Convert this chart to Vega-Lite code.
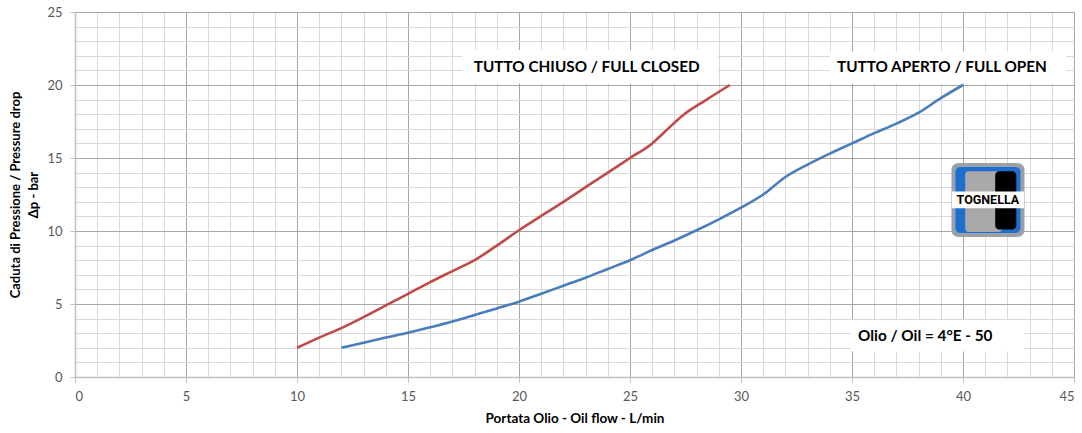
{
  "$schema": "https://vega.github.io/schema/vega-lite/v6.json",
  "width": 999,
  "height": 365,
  "autosize": {"type": "none"},
  "padding": {"left": 75, "top": 12, "right": 8, "bottom": 56},
  "background": "white",
  "config": {
    "view": {"stroke": null},
    "font": "Lato",
    "axis": {
      "labelFont": "Lato",
      "labelFontSize": 13,
      "labelColor": "#595959",
      "labelOverlap": false,
      "titleFont": "Lato",
      "titleFontWeight": "bold",
      "titleColor": "#000000",
      "titleFontSize": 13.5,
      "domainColor": "#bfbfbf",
      "domainWidth": 1.5,
      "tickColor": "#bfbfbf",
      "tickSize": 5,
      "labelPadding": 8
    }
  },
  "datasets": {
    "curves": [
      {"serie": "chiuso", "q": 10, "dp": 2.0},
      {"serie": "chiuso", "q": 11, "dp": 2.7},
      {"serie": "chiuso", "q": 12, "dp": 3.35},
      {"serie": "chiuso", "q": 13, "dp": 4.1},
      {"serie": "chiuso", "q": 14, "dp": 4.9},
      {"serie": "chiuso", "q": 15, "dp": 5.7},
      {"serie": "chiuso", "q": 16, "dp": 6.5},
      {"serie": "chiuso", "q": 17, "dp": 7.25},
      {"serie": "chiuso", "q": 18, "dp": 8.0},
      {"serie": "chiuso", "q": 19, "dp": 9.0},
      {"serie": "chiuso", "q": 20, "dp": 10.05},
      {"serie": "chiuso", "q": 21, "dp": 11.03},
      {"serie": "chiuso", "q": 22, "dp": 12.0},
      {"serie": "chiuso", "q": 23, "dp": 13.0},
      {"serie": "chiuso", "q": 24, "dp": 14.0},
      {"serie": "chiuso", "q": 25, "dp": 15.0},
      {"serie": "chiuso", "q": 26, "dp": 16.0},
      {"serie": "chiuso", "q": 26.5, "dp": 16.7},
      {"serie": "chiuso", "q": 27.4, "dp": 17.95},
      {"serie": "chiuso", "q": 28.4, "dp": 18.95},
      {"serie": "chiuso", "q": 29.5, "dp": 20.0},
      {"serie": "aperto", "q": 12, "dp": 2.0},
      {"serie": "aperto", "q": 13, "dp": 2.35},
      {"serie": "aperto", "q": 14, "dp": 2.7},
      {"serie": "aperto", "q": 15, "dp": 3.03},
      {"serie": "aperto", "q": 16, "dp": 3.4},
      {"serie": "aperto", "q": 17, "dp": 3.8},
      {"serie": "aperto", "q": 18, "dp": 4.25},
      {"serie": "aperto", "q": 19, "dp": 4.7},
      {"serie": "aperto", "q": 20, "dp": 5.16},
      {"serie": "aperto", "q": 21, "dp": 5.7},
      {"serie": "aperto", "q": 22, "dp": 6.25},
      {"serie": "aperto", "q": 23, "dp": 6.8},
      {"serie": "aperto", "q": 24, "dp": 7.4},
      {"serie": "aperto", "q": 25, "dp": 8.0},
      {"serie": "aperto", "q": 26, "dp": 8.7},
      {"serie": "aperto", "q": 27, "dp": 9.35},
      {"serie": "aperto", "q": 28, "dp": 10.05},
      {"serie": "aperto", "q": 29, "dp": 10.8},
      {"serie": "aperto", "q": 30, "dp": 11.6},
      {"serie": "aperto", "q": 31, "dp": 12.5},
      {"serie": "aperto", "q": 32, "dp": 13.7},
      {"serie": "aperto", "q": 33, "dp": 14.55},
      {"serie": "aperto", "q": 34, "dp": 15.3},
      {"serie": "aperto", "q": 35, "dp": 16.0},
      {"serie": "aperto", "q": 36, "dp": 16.7},
      {"serie": "aperto", "q": 37, "dp": 17.35},
      {"serie": "aperto", "q": 38, "dp": 18.1},
      {"serie": "aperto", "q": 39, "dp": 19.1},
      {"serie": "aperto", "q": 40, "dp": 20.0}
    ]
  },
  "layer": [
    {
      "data": {"name": "curves"},
      "mark": {"type": "line", "strokeWidth": 2.6, "interpolate": "monotone"},
      "encoding": {
        "x": {
          "field": "q", "type": "quantitative",
          "scale": {"domain": [0, 45], "nice": false, "zero": true},
          "axis": {
            "title": "Portata Olio - Oil flow -  L/min",
            "titlePadding": 8,
            "tickCount": 50,
            "values": [0,1,2,3,4,5,6,7,8,9,10,11,12,13,14,15,16,17,18,19,20,21,22,23,24,25,26,27,28,29,30,31,32,33,34,35,36,37,38,39,40,41,42,43,44,45],
            "labelExpr": "datum.value % 5 === 0 ? datum.label : ''",
            "grid": true,
            "gridColor": {"condition": {"test": "datum.value % 5 === 0", "value": "#a6a6a6"}, "value": "#d9d9d9"},
            "gridWidth": 1,
            "tickOpacity": {"condition": {"test": "datum.value % 5 === 0", "value": 1}, "value": 0}
          }
        },
        "y": {
          "field": "dp", "type": "quantitative",
          "scale": {"domain": [0, 25], "nice": false},
          "axis": {
            "title": ["Caduta di Pressione / Pressure drop", "Δp - bar"],
            "titleFontSize": 13,
            "titlePadding": 6,
            "titleLineHeight": 18,
            "tickCount": 30,
            "values": [0,1,2,3,4,5,6,7,8,9,10,11,12,13,14,15,16,17,18,19,20,21,22,23,24,25],
            "labelExpr": "datum.value % 5 === 0 ? datum.label : ''",
            "grid": true,
            "gridColor": {"condition": {"test": "datum.value % 5 === 0", "value": "#a6a6a6"}, "value": "#d9d9d9"},
            "gridWidth": 1,
            "tickOpacity": {"condition": {"test": "datum.value % 5 === 0", "value": 1}, "value": 0}
          }
        },
        "color": {
          "field": "serie", "type": "nominal",
          "scale": {"domain": ["chiuso", "aperto"], "range": ["#be4b48", "#4a7ebb"]},
          "legend": null
        }
      }
    },
    {
      "data": {"values": [{}]},
      "mark": {"type": "rect", "fill": "white"},
      "encoding": {"x": {"datum": 17.45}, "x2": {"datum": 28.95}, "y": {"datum": 20.1}, "y2": {"datum": 22.4}}
    },
    {
      "data": {"values": [{}]},
      "mark": {"type": "rect", "fill": "white"},
      "encoding": {"x": {"datum": 34.0}, "x2": {"datum": 44.65}, "y": {"datum": 20.1}, "y2": {"datum": 22.3}}
    },
    {
      "data": {"values": [{}]},
      "mark": {"type": "rect", "fill": "white"},
      "encoding": {"x": {"datum": 34.95}, "x2": {"datum": 42.75}, "y": {"datum": 1.75}, "y2": {"datum": 3.9}}
    },
    {
      "data": {"values": [{"t": "TUTTO CHIUSO / FULL CLOSED", "q": 23.05, "dp": 21.23}, {"t": "TUTTO APERTO / FULL OPEN", "q": 39.05, "dp": 21.23}, {"t": "Olio / Oil = 4°E - 50", "q": 38.3, "dp": 2.8}]},
      "mark": {"type": "text", "font": "Lato", "fontWeight": "bold", "fontSize": 15.3, "color": "#000000", "align": "center", "baseline": "middle"},
      "encoding": {"x": {"field": "q", "type": "quantitative"}, "y": {"field": "dp", "type": "quantitative"}, "text": {"field": "t"}}
    },
    {
      "data": {"values": [{}]},
      "mark": {"type": "rect", "fill": "#9aa0a8", "cornerRadius": 7},
      "encoding": {"x": {"datum": 39.48}, "x2": {"datum": 42.77}, "y": {"datum": 9.59}, "y2": {"datum": 14.66}}
    },
    {
      "data": {"values": [{}]},
      "mark": {"type": "rect", "fill": "#1f6fd1", "cornerRadius": 5},
      "encoding": {"x": {"datum": 39.66}, "x2": {"datum": 42.59}, "y": {"datum": 9.86}, "y2": {"datum": 14.38}}
    },
    {
      "data": {"values": [{}]},
      "mark": {"type": "rect", "fill": "#a9a9a9", "cornerRadius": 3},
      "encoding": {"x": {"datum": 40.1}, "x2": {"datum": 41.75}, "y": {"datum": 9.93}, "y2": {"datum": 14.1}}
    },
    {
      "data": {"values": [{}]},
      "mark": {"type": "rect", "fill": "#000000", "cornerRadius": 4},
      "encoding": {"x": {"datum": 41.45}, "x2": {"datum": 42.4}, "y": {"datum": 10.1}, "y2": {"datum": 14.1}}
    },
    {
      "data": {"values": [{}]},
      "mark": {"type": "rect", "fill": "white"},
      "encoding": {"x": {"datum": 39.5}, "x2": {"datum": 42.75}, "y": {"datum": 11.55}, "y2": {"datum": 12.7}}
    },
    {
      "data": {"values": [{"t": "TOGNELLA", "q": 41.12, "dp": 12.1}]},
      "mark": {"type": "text", "font": "Roboto", "fontWeight": "bold", "fontSize": 12.5, "color": "#000000", "align": "center", "baseline": "middle"},
      "encoding": {"x": {"field": "q", "type": "quantitative"}, "y": {"field": "dp", "type": "quantitative"}, "text": {"field": "t"}}
    }
  ]
}
